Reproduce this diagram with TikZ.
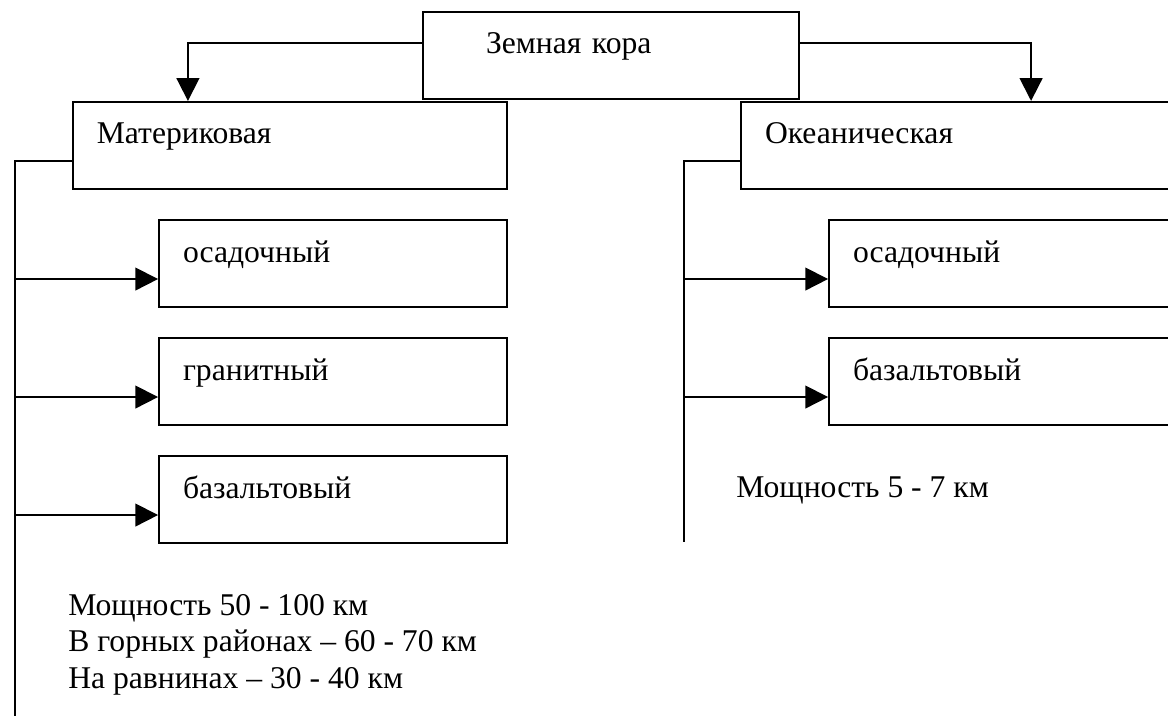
\documentclass[tikz,border=0pt]{standalone}
\usepackage{fontspec}
\setmainfont{Liberation Serif}
\usetikzlibrary{arrows.meta}

\begin{document}
\begin{tikzpicture}[
		box/.style={draw, line width=1.3pt, rectangle, inner xsep=0.6cm, inner ysep=0pt,
			text height=1.05cm, text depth=1.125cm, align=left, font=\fontsize{22.5}{27}\selectfont},
		arr/.style={line width=1.3pt, -{Triangle[length=0.57cm,width=0.57cm]}},
		trunk/.style={line width=1.3pt},
		note/.style={inner sep=0pt, font=\fontsize{22.5}{27}\selectfont}]
			\useasboundingbox (0,0) rectangle (29.2,17.9);

			% Main box
			\node[box, inner xsep=1.575cm, text width=6.25cm] (kora) at (15.275,16.5125) {Земная кора};

			% Two kinds of crust
			\node[box, text width=9.65cm] (mat) at (7.246,14.266) {Материковая};
			\node[box, text width=9.65cm] (okean) at (23.95,14.266) {Океаническая};

			% Layers of the continental crust
			\node[box, text width=7.5cm] (osadL) at (8.325,11.304) {осадочный};
			\node[box, text width=7.5cm] (granL) at (8.325,8.354) {гранитный};
			\node[box, text width=7.5cm] (basL) at (8.325,5.404) {базальтовый};

			% Layers of the oceanic crust
			\node[box, text width=7.5cm] (osadR) at (25.075,11.304) {осадочный};
			\node[box, text width=7.5cm] (basR) at (25.075,8.354) {базальтовый};

			% Thickness notes
			\node[note, anchor=base west] (okeannote) at (18.4,5.45) {Мощность 5 - 7 км};
			\node[note, anchor=base west] (matnote1) at (1.7,2.5) {Мощность 50 - 100 км};
			\node[note, anchor=base west] (matnote2) at (1.7,1.6) {В горных районах -- 60 - 70 км};
			\node[note, anchor=base west] (matnote3) at (1.7,0.675) {На равнинах -- 30 - 40 км};

			% Arrows from the main box
			\draw[arr] ([yshift=0.32cm]kora.west) -| ([xshift=2.9cm]mat.north west);
			\draw[arr] ([yshift=0.32cm]kora.east) -| ([xshift=7.275cm]okean.north west);

			% Trunk lines
			\coordinate (matend) at (0.375,0);
			\coordinate (okend) at (17.1,4.35);
			\draw[trunk] ([yshift=-0.39cm]mat.west) -| (matend);
			\draw[trunk] ([yshift=-0.39cm]okean.west) -| (okend);

			% Arrows to the layers
			\foreach \n in {osadL,granL,basL}{
				\coordinate (\n-in) at ([yshift=-0.38cm]\n.west);
				\draw[arr] (matend |- \n-in) -- (\n-in);
			}
			\foreach \n in {osadR,basR}{
				\coordinate (\n-in) at ([yshift=-0.38cm]\n.west);
				\draw[arr] (okend |- \n-in) -- (\n-in);
			}
		\end{tikzpicture}
\end{document}
